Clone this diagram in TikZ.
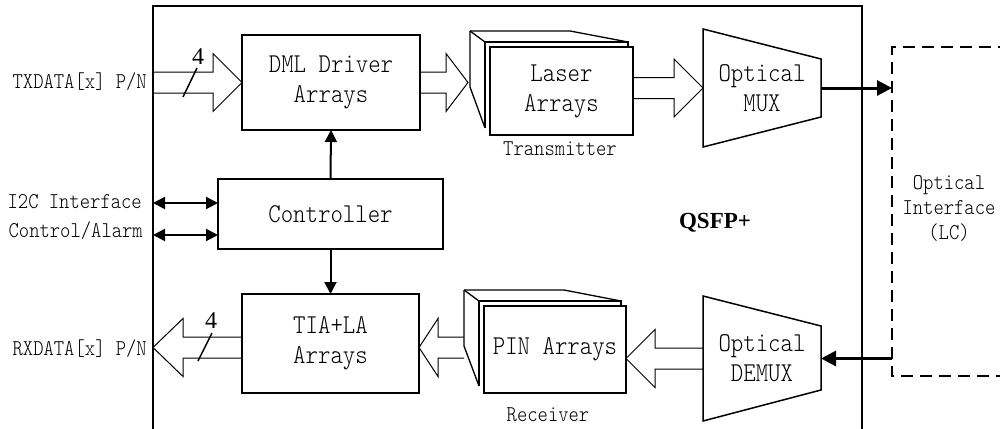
\documentclass[tikz,border=0pt]{standalone}
\usepackage{fontspec}
\usetikzlibrary{arrows.meta,calc}

\newfontfamily\monofam[FakeStretch=0.87]{lmmonolt10-regular.otf}
\newfontfamily\seriffam{Liberation Serif}
\newcommand\blocktxt{\monofam\fontsize{27.2}{30}\selectfont}
\newcommand\labeltxt{\monofam\fontsize{22.6}{25}\selectfont}

% hollow bus arrow: #1 tail, #2 tip, #3 head length (negative points left)
\newcommand\busarrow[3]{%
  \draw[bus] let \p1=(#1), \p2=(#2) in
    ({\x1},{\y2+10.5pt}) -- ({\x2-(#3)},{\y2+10.5pt}) -- ({\x2-(#3)},{\y2+29pt})
    -- ({\x2},{\y2}) -- ({\x2-(#3)},{\y2-29pt}) -- ({\x2-(#3)},{\y2-10.5pt}) -- ({\x1},{\y2-10.5pt});}

% stacked boards drawn behind a front board node
\newcommand\stackback[1]{%
  \draw[stack] ($(#1.north west)+(-5,-5)$) -- ($(#1.north east)+(-5,-5)$) -- ($(#1.north east)+(-5,0)$);
  \draw[stack] ($(#1.north west)+(-5,-5)$) -- ($(#1.south west)+(-5,-7)$);
  \draw[stack] ($(#1.north west)+(-20,-16)$) -- ($(#1.north west)+(80,-16)$) -- ($(#1.north east)+(-5,-5)$);
  \draw[stack] ($(#1.north west)+(-20,-16)$) -- ($(#1.north west)+(-5,-5)$);
  \draw[stack] ($(#1.north west)+(-20,-16)$) -- ($(#1.north west)+(-20,40)$) -- ($(#1.south west)+(-5,-7)$);}

\tikzset{
  frame/.style={line width=2pt},
  block/.style={draw, line width=1.5pt, outer sep=0pt, align=center, font=\blocktxt, fill=white},
  ghost/.style={outer sep=0pt, align=center, font=\blocktxt},
  stack/.style={line width=1.3pt, line join=miter},
  bus/.style={line width=1pt, line join=miter},
  lbl/.style={inner sep=0pt, font=\labeltxt, align=center},
  ctl/.style={line width=2pt, {Triangle[length=12pt,width=12pt]}-{Triangle[length=12pt,width=12pt]}},
  ctldown/.style={line width=2pt, -{Triangle[length=12pt,width=12pt]}},
  link/.style={line width=3pt, -{Triangle[length=15pt,width=15pt]}},
  slash/.style={line width=1.5pt},
  count/.style={inner sep=0pt, font=\seriffam\fontsize{24}{24}\selectfont},
  optbox/.style={line width=1.5pt, dash pattern=on 12pt off 7pt},
}

\begin{document}
\begin{tikzpicture}[x=1pt,y=-1pt]
\useasboundingbox (0,0) rectangle (1000,428);

% module outline
\draw[frame] (153,440) -- (153,6) -- (862,6) -- (862,440);
\node[font=\seriffam\bfseries\fontsize{23}{23}\selectfont] (qsfp) at (715,223) {QSFP+};

% blocks
\node[block, minimum width=178pt, minimum height=95pt] (dml) at (331,82.5) {DML Driver\\Arrays};
\node[block, minimum width=225pt, minimum height=70pt] (ctrl) at (330.5,214) {Controller};
\node[block, minimum width=177pt, minimum height=99pt] (tia) at (330.5,343.5) {TIA+LA\\Arrays};

\node[block, draw=none, fill=none, minimum width=143pt, minimum height=88pt] (laser) at (561.5,91) {};
\stackback{laser}
\node[block, minimum width=143pt, minimum height=88pt] at (laser) {Laser\\Arrays};
\node[lbl] (txname) at (560,149) {Transmitter};

\node[block, draw=none, fill=none, minimum width=142pt, minimum height=87pt] (pin) at (555,349.5) {};
\stackback{pin}
\node[block, minimum width=142pt, minimum height=87pt] at (pin) {PIN Arrays};
\node[lbl] (rxname) at (548,415) {Receiver};

% mux / demux
\node[ghost, minimum width=118pt, minimum height=118pt] (mux) at (762,88) {Optical\\MUX};
\draw[line width=1.5pt, line join=miter] (mux.north west) -- ($(mux.north east)+(0,30)$)
  -- ($(mux.south east)+(0,-30)$) -- (mux.south west) -- cycle;
\node[ghost, minimum width=118pt, minimum height=125pt] (demux) at (762,358.5) {Optical\\DEMUX};
\draw[line width=1.5pt, line join=miter] (demux.north west) -- ($(demux.north east)+(0,30)$)
  -- ($(demux.south east)+(0,-31)$) -- (demux.south west) -- cycle;

% optical interface
\coordinate (oitl) at (892,47);
\coordinate (oibl) at (892,376);
\draw[optbox] (1010,47) -- (oitl) -- (oibl) -- (1010,376);
\node[lbl, align=center] (oi) at (949,208) {Optical\\Interface\\(LC)};

% electrical ports
\coordinate (txport) at (153,82.5);
\coordinate (rxport) at (153,347.5);
\coordinate (i2cport) at (153,203);
\coordinate (alarmport) at (153,235);
\node[lbl, anchor=east] (txlbl) at (147,82) {TXDATA[x] P/N};
\node[lbl, anchor=east] (rxlbl) at (147,349) {RXDATA[x] P/N};
\node[lbl, anchor=east] (i2clbl) at (142,202) {I2C Interface};
\node[lbl, anchor=east] (alarmlbl) at (143,231) {Control/Alarm};

% transmit path
\busarrow{txport}{dml.west}{29pt}
\draw[slash] (183,97) -- (197,68);
\node[count] (tx4) at (198,57) {4};
\coordinate (laserface) at ($(laser.west)+(-22,0)$);
\busarrow{dml.east}{laserface |- dml.east}{22pt}
\busarrow{laser.east |- mux.west}{mux.west}{29pt}
\draw[link] (mux.east) -- (mux.east -| oitl);

% receive path
\draw[link] (demux.east -| oitl) -- (demux.east);
\busarrow{demux.west}{pin.east |- demux.west}{-29pt}
\coordinate (pinface) at ($(pin.west)+(-20,0)$);
\busarrow{pinface |- rxport}{tia.east |- rxport}{-19pt}
\busarrow{tia.west |- rxport}{rxport}{-30pt}
\draw[slash] (198,361) -- (212,333);
\node[count] (rx4) at (211,321) {4};

% management interface
\draw[ctl] (i2cport) -- (i2cport -| ctrl.west);
\draw[ctl] (alarmport) -- (alarmport -| ctrl.west);
\draw[ctldown] (ctrl.north) -- (dml.south);
\draw[ctldown] (ctrl.south) -- (tia.north);
\end{tikzpicture}
\end{document}
